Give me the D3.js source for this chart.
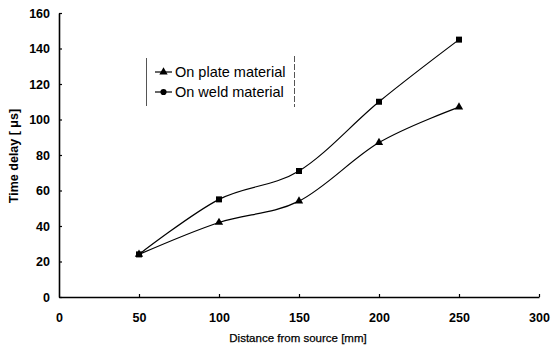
<!DOCTYPE html>
<html>
<head>
<meta charset="utf-8">
<script src="https://cdn.jsdelivr.net/npm/d3@7"></script>
<style>
  html, body { margin: 0; padding: 0; background: #fff; }
  svg { display: block; font-family: "Liberation Sans", Arial, sans-serif; }
</style>
</head>
<body>
<svg id="chart" width="553" height="349"></svg>
<script>
// Distance from source (mm)
const distances = [50, 100, 150, 200, 250];
// Time delay (µs) measured on the two materials
const plateDelay = [24, 42, 54, 87, 107];
const weldDelay = [24, 55, 71, 110, 145];
const seriesNames = ["On plate material", "On weld material"];
const xTicks = [0, 50, 100, 150, 200, 250, 300];
const yTicks = [0, 20, 40, 60, 80, 100, 120, 140, 160];

const svg = d3.select("#chart");
const margin = { left: 59, right: 14, top: 13, bottom: 52 };
const W = 553, H = 349;

const x = d3.scaleLinear().domain([0, 300]).range([margin.left, W - margin.right]);
const y = d3.scaleLinear().domain([0, 160]).range([H - margin.bottom, margin.top]);

// Axes: ticks point into the plot area
const xAxis = svg.append("g")
  .attr("transform", `translate(0,${y(0)})`)
  .call(d3.axisBottom(x).tickValues(xTicks).tickSize(-3).tickSizeOuter(0).tickPadding(16));
const yAxis = svg.append("g")
  .attr("transform", `translate(${x(0)},0)`)
  .call(d3.axisLeft(y).tickValues(yTicks).tickSize(-3).tickSizeOuter(0).tickPadding(9));

[xAxis, yAxis].forEach(g => {
  g.select(".domain").attr("stroke", "#000").attr("stroke-width", 1.6);
  g.selectAll(".tick line").attr("stroke", "#000").attr("stroke-width", 1.2);
  g.selectAll(".tick text")
    .attr("fill", "#000")
    .style("font-size", "12.5px")
    .style("font-weight", "bold");
});
xAxis.selectAll(".tick").filter(d => d === 0).select("line").remove();

// Axis titles
svg.append("text")
  .attr("x", 298).attr("y", 342)
  .attr("text-anchor", "middle")
  .style("font-size", "11.5px")
  .style("stroke", "#000").style("stroke-width", 0.25)
  .text("Distance from source [mm]");
svg.append("text")
  .attr("transform", `translate(18,156) rotate(-90)`)
  .attr("text-anchor", "middle")
  .style("font-size", "12.5px")
  .style("font-weight", "bold")
  .text("Time delay [ μs]");

// Smoothed series lines
const line = d3.line()
  .x(d => x(d[0]))
  .y(d => y(d[1]))
  .curve(d3.curveCardinal.tension(0));

const plateData = distances.map((d, i) => [d, plateDelay[i]]);
const weldData = distances.map((d, i) => [d, weldDelay[i]]);

[plateData, weldData].forEach(data => {
  svg.append("path")
    .datum(data)
    .attr("fill", "none")
    .attr("stroke", "#000")
    .attr("stroke-width", 1.2)
    .attr("d", line);
});

const triangle = d3.symbol().type(d3.symbolTriangle).size(30);
const square = d3.symbol().type(d3.symbolSquare).size(36);

svg.append("g").selectAll("path")
  .data(plateData)
  .join("path")
  .attr("transform", d => `translate(${x(d[0])},${y(d[1])})`)
  .attr("d", triangle)
  .attr("fill", "#000");

svg.append("g").selectAll("path")
  .data(weldData)
  .join("path")
  .attr("transform", d => `translate(${x(d[0])},${y(d[1])})`)
  .attr("d", square)
  .attr("fill", "#000");

// Legend
const legend = svg.append("g");
legend.append("line")
  .attr("x1", 146.5).attr("x2", 146.5).attr("y1", 58).attr("y2", 106)
  .attr("stroke", "#555").attr("stroke-width", 1);
legend.append("line")
  .attr("x1", 294.5).attr("x2", 294.5).attr("y1", 56).attr("y2", 107)
  .attr("stroke", "#555").attr("stroke-width", 1).attr("stroke-dasharray", "6,2");

const legendSymbols = [triangle, d3.symbol().type(d3.symbolCircle).size(30)];
seriesNames.forEach((name, i) => {
  const ly = 72 + i * 20;
  legend.append("line")
    .attr("x1", 155).attr("x2", 172).attr("y1", ly).attr("y2", ly)
    .attr("stroke", "#000").attr("stroke-width", 1.2);
  legend.append("path")
    .attr("transform", `translate(163.5,${ly})`)
    .attr("d", legendSymbols[i])
    .attr("fill", "#000");
  legend.append("text")
    .attr("x", 175).attr("y", ly + 5)
    .style("font-size", "14.5px")
    .text(name);
});
</script>
</body>
</html>
